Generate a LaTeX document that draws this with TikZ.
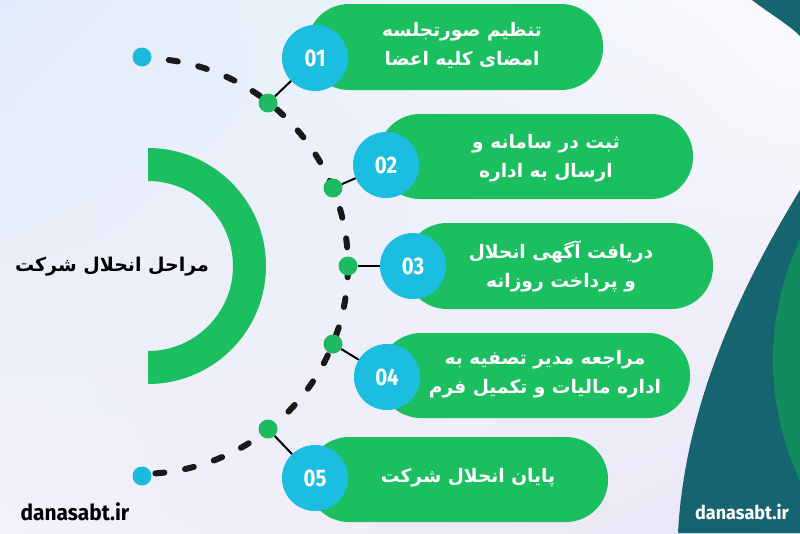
\documentclass[tikz,border=0pt]{standalone}
\usepackage{fontspec}
\usetikzlibrary{shadings}
\TeXXeTstate=1
\newfontfamily\fa[Script=Arabic]{DejaVu Sans}
\newfontfamily\numfont[FakeStretch=0.85]{Fira Sans}
\newfontfamily\sitefont[FakeStretch=0.95]{Fira Sans}
\definecolor{pillgreen}{RGB}{28,191,95}
\definecolor{numblue}{RGB}{27,190,225}
\definecolor{dotgreen}{RGB}{30,186,95}
\definecolor{dotblue}{RGB}{27,187,222}
\definecolor{tealdark}{RGB}{22,100,112}
\definecolor{innergreen}{RGB}{18,140,95}
\definecolor{dashblack}{RGB}{25,25,25}
\definecolor{bgul}{RGB}{224,235,249}
\definecolor{bgur}{RGB}{250,250,253}
\definecolor{bgll}{RGB}{243,242,250}
\definecolor{bglr}{RGB}{233,230,246}
\begin{document}
\begin{tikzpicture}[x=1pt,y=-1pt,
  pill/.style={fill=pillgreen, rounded corners=42pt},
  numc/.style={circle, fill=numblue, minimum size=66pt, inner sep=0pt, text=white,
    font=\numfont\bfseries\fontsize{24}{24}\selectfont},
  gdot/.style={circle, fill=dotgreen, minimum size=19pt, inner sep=0pt},
  bdot/.style={circle, fill=dotblue, minimum size=19pt, inner sep=0pt},
  ptext/.style={text=white, align=center, inner sep=0pt,
    font=\fa\bfseries\fontsize{18.6}{29}\selectfont},
  link/.style={draw=black, line width=2pt},
  dashline/.style={draw=dashblack, line width=6pt, line cap=round, dash pattern=on 9pt off 21pt},
  site/.style={font=\sitefont\bfseries\fontsize{22}{22}\selectfont, inner sep=0pt}
]
\useasboundingbox (0,0) rectangle (800,533);
% background
\shade[upper left=bgul, upper right=bgur, lower left=bgll, lower right=bglr] (0,0) rectangle (800,533);
\begin{scope}
  \clip (0,0) rectangle (800,533);
  \fill[tealdark] (752,0) .. controls (770,14) and (788,24) .. (800,36) -- (800,0) -- cycle;
  \fill[tealdark] (800,190) .. controls (745,280) and (685,400) .. (678,533) -- (800,533) -- cycle;
  \fill[innergreen] (1053,360) circle[radius=280];
\end{scope}
% title ring
\fill[pillgreen] (148,148) arc[start angle=-90, end angle=90, radius=118]
  -- (148,351) arc[start angle=90, end angle=-90, radius=85] -- cycle;
\node[font=\fa\bfseries\fontsize{19}{19}\selectfont, inner sep=0pt] (title) at (112,267) {\beginR مراحل انحلال شرکت\endR};
% pills
\fill[pill] (307,4) rectangle (603,90);
\fill[pill] (378,114) rectangle (693,199);
\fill[pill] (405,223) rectangle (713,309);
\fill[pill] (379,333) rectangle (690,418);
\fill[pill] (307,437) rectangle (608,522);
% dashed arc
\coordinate (arcs) at (168.9,60.0);
\draw[dashline] (arcs) arc[start angle=-82, end angle=90, radius=208];
% dots
\node[bdot] (b1) at (142,57) {};
\node[bdot] (b2) at (142,476) {};
\node[gdot] (g1) at (268,103) {};
\node[gdot] (g2) at (333,188) {};
\node[gdot] (g3) at (348,266) {};
\node[gdot] (g4) at (333,344) {};
\node[gdot] (g5) at (268,429) {};
% number circles
\node[numc] (c1) at (315,58) {01};
\node[numc] (c2) at (386,165) {02};
\node[numc] (c3) at (413,266) {03};
\node[numc] (c4) at (387,377) {04};
\node[numc] (c5) at (315,478) {05};
\draw[link] (g1) -- (c1);
\draw[link] (g2) -- (c2);
\draw[link] (g3) -- (c3);
\draw[link] (g4) -- (c4);
\draw[link] (g5) -- (c5);
% pill texts
\node[ptext] (t1) at (462,45) {\beginR تنظیم صورتجلسه\endR\\\beginR امضای کلیه اعضا\endR};
\node[ptext] (t2) at (546,158) {\beginR ثبت در سامانه و\endR\\\beginR ارسال به اداره\endR};
\node[ptext] (t3) at (561,266) {\beginR دریافت آگهی انحلال\endR\\\beginR و پرداخت روزانه\endR};
\node[ptext] (t4) at (545,374) {\beginR مراجعه مدیر تصفیه به\endR\\\beginR اداره مالیات و تکمیل فرم\endR};
\node[ptext] (t5) at (468,478) {\beginR پایان انحلال شرکت\endR};
% site names
\node[site, text=black] (s1) at (75,512) {danasabt.ir};
\node[site, text=white, font=\sitefont\bfseries\fontsize{19}{19}\selectfont] (s2) at (742,512) {danasabt.ir};
\end{tikzpicture}
\end{document}
